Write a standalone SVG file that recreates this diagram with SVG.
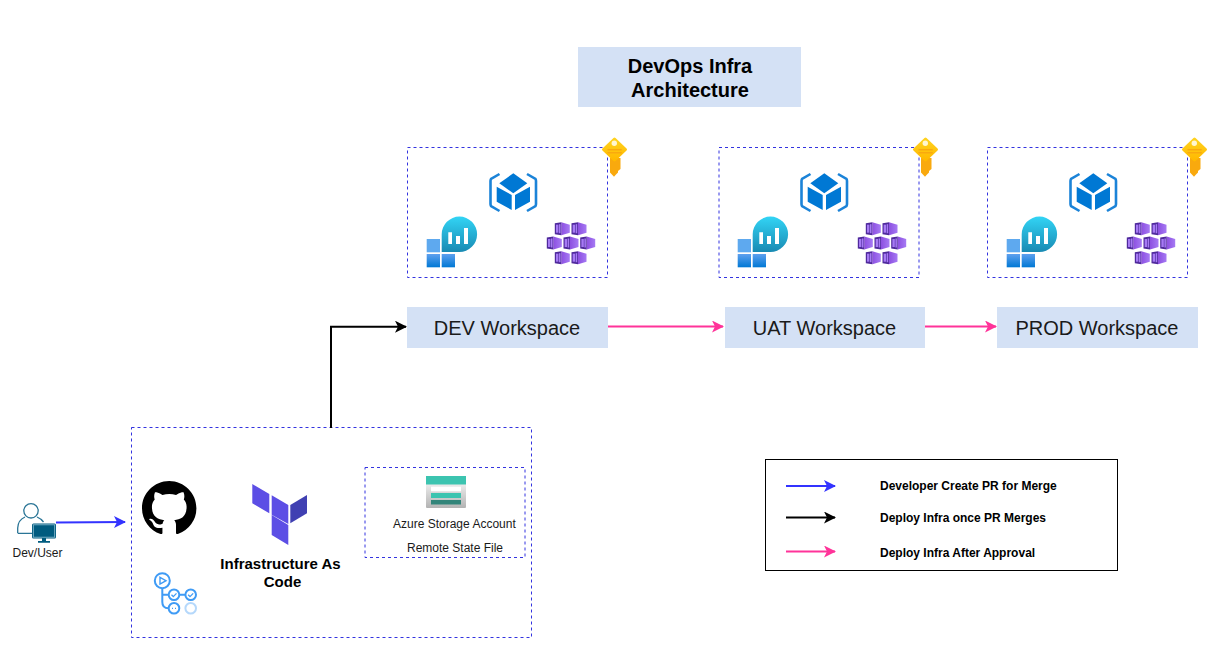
<svg xmlns="http://www.w3.org/2000/svg" width="1217" height="671" viewBox="0 0 1217 671">
<style>
text{font-family:"Liberation Sans",Arial,sans-serif;fill:#000}
.ws{fill:#d4e1f5}
.wst{font-size:20px;text-anchor:middle;fill:#1a1a1a}
.dash{fill:none;stroke:#3333e0;stroke-width:1;stroke-dasharray:3 3}
.leg{font-size:12px;font-weight:bold}
.small{font-size:12px;fill:#1a1a1a}
.iac{font-size:15px;font-weight:bold;text-anchor:middle}
.title{font-size:20px;font-weight:bold;text-anchor:middle}
.c{fill:none;stroke-width:2}
.blue{stroke:#3333ff}.black{stroke:#000}.pink{stroke:#ff3399}
.act{fill:none;stroke:#3f9bf5;stroke-width:2}
</style>
<defs>
<marker id="mb" viewBox="0 0 12 12" refX="11" refY="6" markerWidth="12" markerHeight="12" markerUnits="userSpaceOnUse" orient="auto"><path d="M0 0L12 6L0 12L3 6Z" fill="#3333ff"/></marker>
<marker id="mk" viewBox="0 0 12 12" refX="11" refY="6" markerWidth="12" markerHeight="12" markerUnits="userSpaceOnUse" orient="auto"><path d="M0 0L12 6L0 12L3 6Z" fill="#000"/></marker>
<marker id="mp" viewBox="0 0 12 12" refX="11" refY="6" markerWidth="12" markerHeight="12" markerUnits="userSpaceOnUse" orient="auto"><path d="M0 0L12 6L0 12L3 6Z" fill="#ff3399"/></marker>
<linearGradient id="gm" x1="0" y1="0" x2="0" y2="1"><stop offset="0" stop-color="#32d4f5"/><stop offset="1" stop-color="#198ab3"/></linearGradient>
<linearGradient id="gs" x1="0" y1="0" x2="0" y2="1"><stop offset="0" stop-color="#5ea0ef"/><stop offset="1" stop-color="#0078d4"/></linearGradient>
<linearGradient id="gk" x1="0" y1="0" x2="0" y2="1"><stop offset="0" stop-color="#ffd21f"/><stop offset="1" stop-color="#ffb900"/></linearGradient>
<linearGradient id="gg" x1="0" y1="0" x2="0" y2="1"><stop offset="0" stop-color="#fff"/><stop offset="1" stop-color="#b3b3b3"/></linearGradient>
<linearGradient id="ga" x1="0" y1="0" x2="1" y2="0"><stop offset="0" stop-color="#8c4fe0"/><stop offset="1" stop-color="#a67af4"/></linearGradient>
<g id="aksu"><path d="M-1-6.500L7.500-4V4L-1 6.500Z" fill="url(#ga)"/><path d="M-7.500-5.500L-1-6.500V6.500L-7.500 5.500Z" fill="#4f2a9c"/><rect x="-6.300" y="-4" width="2.400" height="8" fill="#a67af4"/><rect x="-3.300" y="-4.500" width="1.500" height="9" fill="#a67af4"/></g>
<g id="azure">
<path d="M499.500 174L491 179Q490.500 180 490.500 181V204Q490.500 205 491 206L499.500 211M527 174L535.500 179Q536 180 536 181V204Q536 205 535.500 206L527 211" fill="none" stroke="#1b83d8" stroke-width="2.600"/>
<path d="M513.300 173.300L527.300 183.300L513.300 193.300L499.300 183.300Z" fill="#0078d4"/>
<path d="M496.700 186.700L511.700 195V210L496.700 201.700Z M530 186.700L515 195V210L530 201.700Z" fill="#0078d4"/>
<path d="M441.700 252V234.300A17.700 17.700 0 1 1 459.300 252Z" fill="url(#gm)"/>
<path d="M448.300 232.300h3.700V244h-3.700zM456 236h4v8h-4zM464 228h4v16h-4z" fill="#fff"/>
<rect x="426.700" y="239" width="13.300" height="13.300" fill="#5ea9ef"/>
<rect x="426.700" y="254" width="13.300" height="13.300" fill="url(#gs)"/>
<rect x="441.700" y="254" width="13.300" height="13.300" fill="url(#gs)"/>
<use href="#aksu" x="562.300" y="228.700"/><use href="#aksu" x="579" y="228.700"/>
<use href="#aksu" x="554.300" y="243"/><use href="#aksu" x="571" y="243"/><use href="#aksu" x="587.700" y="243"/>
<use href="#aksu" x="562.300" y="257.700"/><use href="#aksu" x="579" y="257.700"/>
</g>
<g id="key">
<path d="M610 158H620.500V169L618 171V172.500L616 174.500L614 176.800L610 172.500Z" fill="#f9a90e"/>
<path d="M614.500 139L625.500 149.500L614.500 160L603.500 149.500Z" fill="url(#gk)" stroke="url(#gk)" stroke-width="3" stroke-linejoin="round"/>
<circle cx="614.300" cy="143.200" r="2.700" fill="#fff6d0"/>
<path d="M607.500 149h14.200v1.500h-14.200zM607.500 152h14.200v1.500h-14.200z" fill="#f9a90e"/>
</g>
</defs>

<g id="title"><rect x="578" y="47" width="223" height="60" class="ws"/><text class="title" x="690" y="73">DevOps Infra</text><text class="title" x="690" y="97">Architecture</text></g>

<g id="dev-env"><rect class="dash" x="407.500" y="147.500" width="200" height="130"/><use href="#azure"/><use href="#key"/></g>
<g id="uat-env"><rect class="dash" x="719" y="147.500" width="200" height="130"/><use href="#azure" x="311"/><use href="#key" x="311"/></g>
<g id="prod-env"><rect class="dash" x="987.500" y="147.500" width="200" height="130"/><use href="#azure" x="580"/><use href="#key" x="580"/></g>

<g id="dev-ws"><rect class="ws" x="407" y="307" width="201" height="41"/><text class="wst" x="507" y="335">DEV Workspace</text></g>
<g id="uat-ws"><rect class="ws" x="725" y="307" width="200" height="41"/><text class="wst" x="824.500" y="335">UAT Workspace</text></g>
<g id="prod-ws"><rect class="ws" x="997" y="307" width="201" height="41"/><text class="wst" x="1097" y="335">PROD Workspace</text></g>

<g id="user">
<circle cx="31" cy="510.800" r="7.200" fill="#fff" stroke="#2a7596" stroke-width="1.300"/>
<path d="M17.700 533V528Q18 520 25 517M37 517Q41 518.500 43.500 522M17.700 533.300H32" fill="none" stroke="#2a7596" stroke-width="1.300"/>
<rect x="32" y="523.500" width="24" height="15" rx="1.500" fill="#005b7f"/>
<rect x="33.300" y="524.800" width="21.400" height="12.400" fill="#005b7f" stroke="#8fc0d4" stroke-width="0.800"/>
<path d="M42 538h4v3h4v1.700H38V541h4z" fill="#005b7f"/>
<text class="small" x="12.500" y="556.500">Dev/User</text>
</g>

<g id="iac"><rect class="dash" x="131.500" y="427.500" width="400" height="210"/></g>
<g id="github"><path transform="translate(142 481) scale(3.4)" fill="#000" fill-rule="evenodd" d="M8 0C3.58 0 0 3.58 0 8c0 3.54 2.29 6.53 5.47 7.59.4.07.55-.17.55-.38 0-.19-.01-.82-.01-1.49-2.01.37-2.53-.49-2.69-.94-.09-.23-.48-.94-.82-1.13-.28-.15-.68-.52-.01-.53.63-.01 1.08.58 1.23.82.72 1.21 1.87.87 2.33.66.07-.52.28-.87.51-1.07-1.78-.2-3.64-.89-3.64-3.95 0-.87.31-1.59.82-2.15-.08-.2-.36-1.02.08-2.12 0 0 .67-.21 2.2.82.64-.18 1.32-.27 2-.27.68 0 1.36.09 2 .27 1.53-1.04 2.2-.82 2.2-.82.44 1.1.16 1.92.08 2.12.51.56.82 1.27.82 2.15 0 3.07-1.87 3.75-3.65 3.95.29.25.54.73.54 1.48 0 1.07-.01 1.930-.01 2.2 0 .21.15.46.55.38A8.013 8.013 0 0016 8c0-4.42-3.58-8-8-8z"/></g>
<g id="actions">
<circle class="act" cx="162.300" cy="580.700" r="7.500"/>
<path d="M160 577.300L166 580.700L160 584Z" fill="none" stroke="#3f9bf5" stroke-width="1.400"/>
<path class="act" d="M162.300 588.500V602Q162.300 608.300 168.500 608.300M162.300 594.700H168.500M179.500 594.700H185.200"/>
<circle class="act" cx="174" cy="594.700" r="5.300"/><circle class="act" cx="190.700" cy="594.700" r="5.300"/>
<circle class="act" cx="174" cy="608.300" r="5.300"/><circle class="act" cx="190.700" cy="608.300" r="5.300" style="stroke:#b5d8fb"/>
<path d="M171.500 594.800l1.800 1.800l3.200-3.200M188.200 594.800l1.800 1.800l3.200-3.200" fill="none" stroke="#3f9bf5" stroke-width="1.300"/>
<path d="M172 608.300h1M175 608.300h1" fill="none" stroke="#3f9bf5" stroke-width="1.300"/>
</g>
<g id="terraform">
<path d="M252.300 484L269.300 494V513.300L252.300 503.300Z M271.700 495.300L288.300 505V524L271.700 514.700Z M271.700 515L288.300 525V545L271.700 535Z" fill="#5c4ee5"/>
<path d="M290.300 505L307 495V513.300L290.300 523.300Z" fill="#4040b2"/>
<text class="iac" x="280.500" y="569">Infrastructure As</text><text class="iac" x="282.500" y="587">Code</text>
</g>
<g id="storage">
<rect class="dash" x="365" y="467.500" width="160" height="90"/>
<rect x="426" y="476" width="40" height="32" rx="1" fill="url(#gg)"/>
<rect x="426" y="476" width="40" height="8.500" fill="#3cc4b0"/>
<rect x="431" y="486.700" width="30" height="4.600" fill="#fff"/>
<rect x="431" y="493" width="30" height="5" fill="#3cc4b0"/>
<rect x="431" y="500" width="30" height="4.500" fill="#32857a"/>
<text class="small" x="393" y="528">Azure Storage Account</text>
<text class="small" x="407" y="552">Remote State File</text>
</g>

<g id="legend">
<rect x="765.500" y="459.500" width="352" height="111" fill="#fff" stroke="#000"/>
<text class="leg" x="880" y="490">Developer Create PR for Merge</text>
<text class="leg" x="880" y="522">Deploy Infra once PR Merges</text>
<text class="leg" x="880" y="557">Deploy Infra After Approval</text>
</g>

<g id="connectors">
<path class="c blue" d="M56 522.500Q90 522 125 522" marker-end="url(#mb)"/>
<path class="c black" d="M331 428V326.700H406" marker-end="url(#mk)"/>
<path class="c pink" d="M608 326.500H723" marker-end="url(#mp)"/>
<path class="c pink" d="M925 326.500H996" marker-end="url(#mp)"/>
<path class="c blue" d="M786 486H835" marker-end="url(#mb)"/>
<path class="c black" d="M786 517.500H835" marker-end="url(#mk)"/>
<path class="c pink" d="M786 551.500H835" marker-end="url(#mp)"/>
</g>
</svg>
